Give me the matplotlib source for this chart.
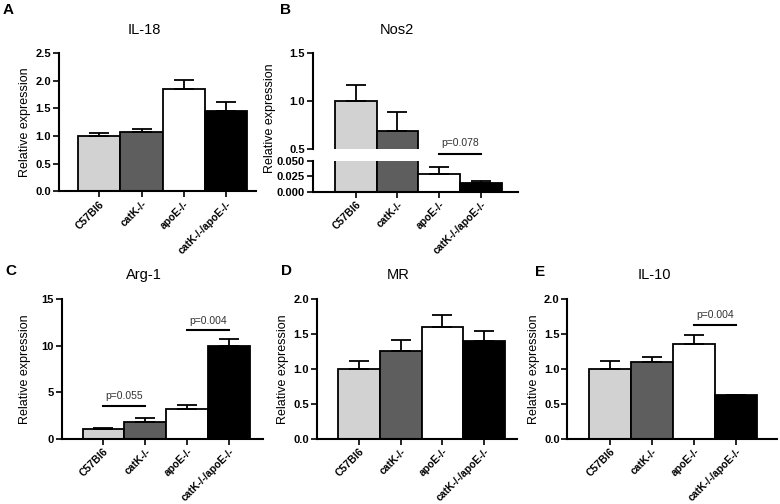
import numpy as np
import matplotlib
matplotlib.use('Agg')
import matplotlib.pyplot as plt

plt.rcParams['font.family'] = ['Liberation Sans', 'DejaVu Sans']

W, H = 780, 504

groups = ['C57Bl6', 'catK-/-', 'apoE-/-', 'catK-/-/apoE-/-']
colors = ['#d2d2d2', '#5e5e5e', 'white', 'black']

il18 = [1.0, 1.07, 1.85, 1.45]
il18_err = [0.05, 0.06, 0.16, 0.17]

nos2 = [1.0, 0.69, 0.029, 0.014]
nos2_err = [0.17, 0.20, 0.011, 0.003]

arg1 = [1.0, 1.75, 3.15, 10.0]
arg1_err = [0.15, 0.45, 0.45, 0.7]

mr = [1.0, 1.26, 1.6, 1.4]
mr_err = [0.12, 0.16, 0.18, 0.14]

il10 = [1.0, 1.1, 1.36, 0.62]
il10_err = [0.12, 0.07, 0.13, 0.01]

x = np.arange(len(groups))


def box(left, top, right, bottom):
    return [left / W, 1 - bottom / H, (right - left) / W, (bottom - top) / H]


def style(ax, xticks=True):
    for s in ['top', 'right']:
        ax.spines[s].set_visible(False)
    for s in ['left', 'bottom']:
        ax.spines[s].set_linewidth(1.5)
    ax.tick_params(width=1.2, length=4, labelsize=8, pad=1.5)
    for lab in ax.get_yticklabels():
        lab.set_fontweight('bold')
    if xticks:
        ax.set_xticks(x)
        ax.set_xticklabels(groups, rotation=45, ha='right', rotation_mode='anchor',
                           fontweight='bold', fontsize=7.5)


def bars(ax, vals, errs):
    ax.bar(x, vals, width=1.0, color=colors, edgecolor='black', linewidth=1.3, zorder=2)
    ax.errorbar(x, vals, yerr=[np.zeros(len(errs)), errs], fmt='none', ecolor='black',
                elinewidth=1.3, capsize=7, capthick=1.3, zorder=3)


def sig(ax, x0, x1, y_line, y_text, label, clip=True):
    ax.plot([x0, x1], [y_line, y_line], color='black', lw=1.5, clip_on=clip, zorder=4)
    ax.text((x0 + x1) / 2, y_text, label, ha='center', va='center', fontsize=7.5,
            color='#333333')


def panel_text(letter, lx, ly, title, tx, ty):
    fig.text(lx / W, 1 - ly / H, letter, fontsize=11, fontweight='bold', ha='left', va='top')
    fig.text(tx / W, 1 - ty / H, title, fontsize=10.5, ha='center', va='center')


fig = plt.figure(figsize=(W / 100, H / 100), dpi=100)

# A: IL-18
ax = fig.add_axes(box(58.7, 53.3, 256, 191.3))
bars(ax, il18, il18_err)
ax.set_ylim(0, 2.5)
ax.set_yticks([0, 0.5, 1.0, 1.5, 2.0, 2.5])
ax.set_yticklabels(['0.0', '0.5', '1.0', '1.5', '2.0', '2.5'])
ax.set_xlim(-0.96, 3.71)
style(ax)
ax.set_ylabel('Relative expression', fontsize=9, labelpad=3)
panel_text('A', 3, 3, 'IL-18', 144, 30)

# B: Nos2 (broken axis)
axt = fig.add_axes(box(312.7, 53.3, 518, 149.3))
axb = fig.add_axes(box(312.7, 160.7, 518, 192))
for a in (axt, axb):
    bars(a, nos2, nos2_err)
    a.set_xlim(-1.03, 3.89)
axt.set_ylim(0.5, 1.5)
axt.set_yticks([0.5, 1.0, 1.5])
axt.set_yticklabels(['0.5', '1.0', '1.5'])
axb.set_ylim(0, 0.05)
axb.set_yticks([0, 0.025, 0.05])
axb.set_yticklabels(['0.000', '0.025', '0.050'])
style(axt, xticks=False)
axt.spines['bottom'].set_visible(False)
axt.set_xticks([])
style(axb)
sig(axt, 2, 3, 0.451, 0.57, 'p=0.078', clip=False)
fig.text(270 / W, 1 - 118 / H, 'Relative expression', fontsize=9, rotation=90,
         ha='center', va='center')
panel_text('B', 280, 3, 'Nos2', 397, 30)

# C: Arg-1
ax = fig.add_axes(box(61.7, 299.3, 263, 438.7))
bars(ax, arg1, arg1_err)
ax.set_ylim(0, 15)
ax.set_yticks([0, 5, 10, 15])
ax.set_xlim(-1.0, 3.82)
style(ax)
ax.set_ylabel('Relative expression', fontsize=9, labelpad=8)
sig(ax, 0, 1, 3.56, 4.64, 'p=0.055')
sig(ax, 2, 3, 11.7, 12.7, 'p=0.004')
panel_text('C', 5, 264, 'Arg-1', 144, 275)

# D: MR
ax = fig.add_axes(box(316.7, 299.3, 517, 438.7))
bars(ax, mr, mr_err)
ax.set_ylim(0, 2.0)
ax.set_yticks([0, 0.5, 1.0, 1.5, 2.0])
ax.set_yticklabels(['0.0', '0.5', '1.0', '1.5', '2.0'])
ax.set_xlim(-1.02, 3.79)
style(ax)
ax.set_ylabel('Relative expression', fontsize=9, labelpad=3)
panel_text('D', 281, 264, 'MR', 398, 275)

# E: IL-10
ax = fig.add_axes(box(567.3, 299.3, 776.7, 438.7))
bars(ax, il10, il10_err)
ax.set_ylim(0, 2.0)
ax.set_yticks([0, 0.5, 1.0, 1.5, 2.0])
ax.set_yticklabels(['0.0', '0.5', '1.0', '1.5', '2.0'])
ax.set_xlim(-1.03, 3.98)
style(ax)
ax.set_ylabel('Relative expression', fontsize=9, labelpad=3)
sig(ax, 2, 3, 1.63, 1.78, 'p=0.004')
panel_text('E', 535, 265, 'IL-10', 654, 275)

fig.savefig('out.png', dpi=100)
